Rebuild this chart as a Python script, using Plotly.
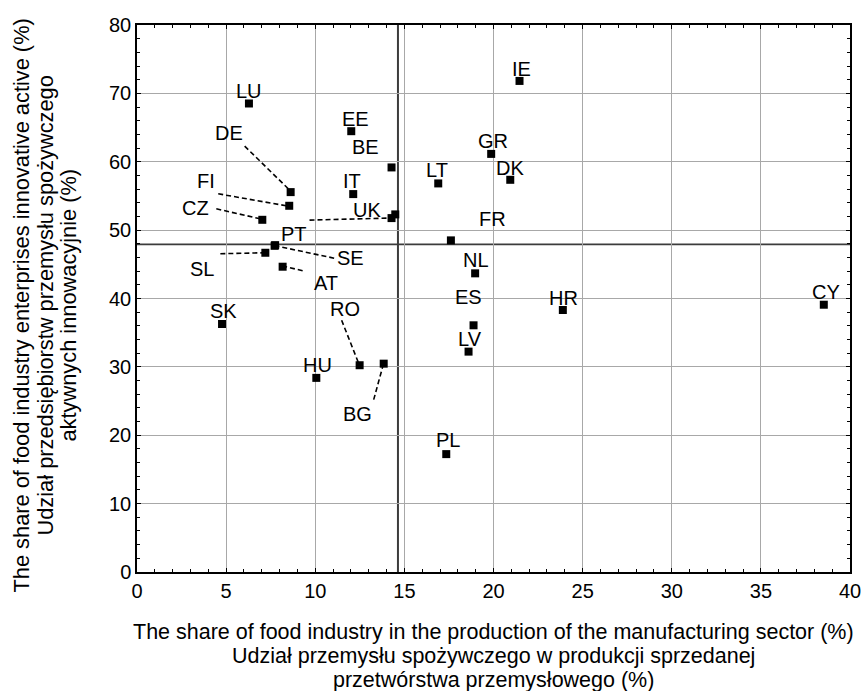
import plotly.graph_objects as go

# ---- data ----
countries = ["LU", "EE", "BE", "DE", "FI", "CZ", "IT", "UK", "MT", "PT", "SE", "SL", "AT",
             "SK", "HU", "RO", "BG", "IE", "GR", "DK", "LT", "FR", "NL", "ES", "LV", "HR",
             "PL", "CY"]
food_share = [6.28, 12.02, 14.28, 8.62, 8.54, 7.03, 12.13, 14.28, 14.49, 7.72, 7.75, 7.20, 8.17,
              4.77, 10.06, 12.49, 13.84, 21.46, 19.87, 20.94, 16.90, 17.61, 18.97, 18.88, 18.60, 23.89,
              17.35, 38.53]
innov_share = [68.52, 64.47, 59.17, 55.56, 53.56, 51.51, 55.27, 51.76, 52.30, 47.71, 47.80, 46.69, 44.65,
               36.27, 28.39, 30.24, 30.47, 71.82, 61.15, 57.36, 56.83, 48.50, 43.68, 36.08, 32.23, 38.32,
               17.24, 39.09]
shown_labels = ["LU", "EE", "BE", "DE", "FI", "CZ", "IT", "UK", "", "PT", "SE", "SL", "AT",
                "SK", "HU", "RO", "BG", "IE", "GR", "DK", "LT", "FR", "NL", "ES", "LV", "HR",
                "PL", "CY"]
median_x = 14.64
median_y = 47.92

x_ticks = [0, 5, 10, 15, 20, 25, 30, 35, 40]
y_ticks = [0, 10, 20, 30, 40, 50, 60, 70, 80]

x_title_lines = ["The share of food industry in the production of the manufacturing sector (%)",
                 "Udział przemysłu spożywczego w produkcji sprzedanej",
                 "przetwórstwa przemysłowego (%)"]
y_title_lines = ["The share of food industry enterprises innovative active (%)",
                 "Udział przedsiębiorstw przemysłu spożywczego",
                 "aktywnych innowacyjnie (%)"]

# ---- label placement (pixel offsets from marker; screen y downward) ----
label_offset = {
    "LU": (0, -12), "EE": (4, -12), "BE": (-26, -20), "DE": (-62, -59), "FI": (-83, -25),
    "CZ": (-67, -12), "IT": (-1, -13), "UK": (-25, -8), "PT": (19, -12), "SE": (75, 13),
    "SL": (-63, 16), "AT": (43, 16), "SK": (1, -13), "HU": (1, -13), "RO": (-15, -56),
    "BG": (-26, 50), "IE": (2, -12), "GR": (2, -13), "DK": (0, -12), "LT": (-1, -13),
    "FR": (42, -21), "NL": (1, -13), "ES": (-5, -28), "LV": (1, -13), "HR": (1, -12),
    "PL": (2, -14), "CY": (2, -13),
}
# leader lines: (start offset near label, end offset near marker), pixels
leaders = {
    "DE": ((-46, -46), (-2, -3)),
    "FI": ((-71, -12), (-3, 0)),
    "CZ": ((-46, -11), (-2, -1)),
    "UK": ((-82, 2), (-2, 0)),
    "SE": ((59, 13), (2, 1)),
    "SL": ((-45, 1), (-2, 0)),
    "AT": ((20, 4), (3, 0)),
    "RO": ((-18, -45), (-1, -2)),
    "BG": ((-10, 36), (-1, 3)),
}

W, H = 863, 691
ML, MR, MT_, MB = 137, 13, 25, 119
plot_w = W - ML - MR
plot_h = H - MT_ - MB
px_x = plot_w / (x_ticks[-1] - x_ticks[0])
px_y = plot_h / (y_ticks[-1] - y_ticks[0])

FONT = "Liberation Sans, Arial, sans-serif"
FS = 20

fig = go.Figure()

# leader lines
for c, ((sx, sy), (ex, ey)) in leaders.items():
    i = countries.index(c)
    x0, y0 = food_share[i], innov_share[i]
    fig.add_trace(go.Scatter(
        x=[x0 + sx / px_x, x0 + ex / px_x],
        y=[y0 - sy / px_y, y0 - ey / px_y],
        mode="lines", line=dict(color="black", width=1.6, dash="5px,3px"),
        hoverinfo="skip", showlegend=False))

fig.add_trace(go.Scatter(
    x=food_share, y=innov_share, mode="markers", text=countries,
    marker=dict(symbol="square", size=8, color="black"),
    showlegend=False, hovertemplate="%{text}: %{x}, %{y}<extra></extra>"))

annotations = []
for c, lab, x, y in zip(countries, shown_labels, food_share, innov_share):
    if not lab:
        continue
    dx, dy = label_offset[lab]
    annotations.append(dict(x=x, y=y, xref="x", yref="y", text=lab, showarrow=False,
                            xanchor="center", yanchor="middle", xshift=dx, yshift=-dy,
                            font=dict(family=FONT, size=FS, color="black")))

for line, ys in zip(x_title_lines, [-60, -84, -108]):
    annotations.append(dict(x=0.5, y=0, xref="paper", yref="paper", text=line, showarrow=False,
                            xanchor="center", yanchor="middle", yshift=ys,
                            font=dict(family=FONT, size=21.5, color="black")))
for line, xs in zip(y_title_lines, [-116, -92, -69]):
    annotations.append(dict(x=0, y=0.5, xref="paper", yref="paper", text=line, showarrow=False,
                            xanchor="center", yanchor="middle", xshift=xs, yshift=-7,
                            textangle=-90,
                            font=dict(family=FONT, size=21.8, color="black")))

shapes = [
    dict(type="line", xref="x", yref="paper", x0=median_x, x1=median_x, y0=0, y1=1,
         line=dict(color="#3c3c3c", width=2), layer="below"),
    dict(type="line", xref="paper", yref="y", x0=0, x1=1, y0=median_y, y1=median_y,
         line=dict(color="#3c3c3c", width=1.6), layer="below"),
]

axis_common = dict(
    showline=True, linecolor="black", linewidth=1.5, mirror="ticks",
    ticks="inside", ticklen=4, tickcolor="black", tickwidth=1.2,
    showgrid=True, gridcolor="#a8a8a8", gridwidth=1, zeroline=False,
    automargin=False,
    tickfont=dict(family=FONT, size=FS, color="black"),
)

fig.update_layout(
    width=W, height=H,
    margin=dict(l=ML, r=MR, t=MT_, b=MB, autoexpand=False),
    paper_bgcolor="white", plot_bgcolor="white",
    xaxis=dict(range=[x_ticks[0], x_ticks[-1]], tickvals=x_ticks,
               minor=dict(dtick=1, ticks="inside", ticklen=3, tickcolor="black", showgrid=False),
               **axis_common),
    yaxis=dict(range=[y_ticks[0], y_ticks[-1]], tickvals=y_ticks,
               minor=dict(dtick=2, ticks="inside", ticklen=3, tickcolor="black", showgrid=False),
               **axis_common),
    annotations=annotations, shapes=shapes,
)

# remove the default page margin so the 863x691 figure fills the window exactly
fig.write_html("out.html",
               config={"displayModeBar": False},
               post_script="document.body.style.margin='0';document.body.style.overflow='hidden';")
